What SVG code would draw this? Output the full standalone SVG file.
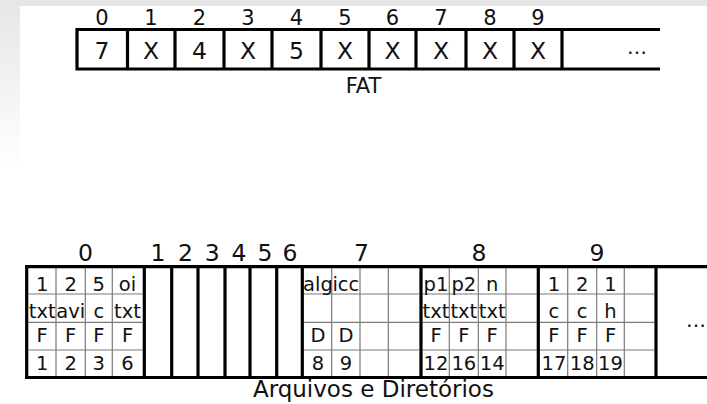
<svg xmlns="http://www.w3.org/2000/svg" width="707" height="404" viewBox="0 0 707 404">
<defs>
<linearGradient id="lg" x1="0" y1="0" x2="0" y2="1">
<stop offset="0" stop-color="#e6e6e6"/>
<stop offset="1" stop-color="#ffffff"/>
</linearGradient>
<style>
.t{font-family:"DejaVu Sans",sans-serif;fill:#111;text-anchor:middle}
.idx{font-size:21px}
.bidx{font-size:23.5px}
.val{font-size:23.5px}
.c{font-size:19.5px}
.lbl{font-size:21px}
.thick{stroke:#000;stroke-width:3.2;fill:none}
.thin{stroke:#7a7a7a;stroke-width:1.2;fill:none}
</style>
</defs>
<rect x="0" y="0" width="707" height="404" fill="#fff"/>
<rect x="0" y="0" width="20" height="170" fill="url(#lg)"/>
<rect x="0" y="0" width="707" height="6" fill="#e6e6e6"/>

<g id="fat">
<g id="fat-grid">
<path class="thick" d="M77,29.5H660M77,69H660M77,28V70.5M127.5,29.5V69M175,29.5V69M224,29.5V69M272,29.5V69M321,29.5V69M369,29.5V69M416,29.5V69M466,29.5V69M514,29.5V69M562,29.5V69"/>
</g>
<g id="fat-0"><text class="t idx" x="102" y="25">0</text><text class="t val" x="102" y="58.5">7</text></g>
<g id="fat-1"><text class="t idx" x="151" y="25">1</text><text class="t val" x="151" y="58.5">X</text></g>
<g id="fat-2"><text class="t idx" x="199.5" y="25">2</text><text class="t val" x="199.5" y="58.5">4</text></g>
<g id="fat-3"><text class="t idx" x="248" y="25">3</text><text class="t val" x="248" y="58.5">X</text></g>
<g id="fat-4"><text class="t idx" x="296.5" y="25">4</text><text class="t val" x="296.5" y="58.5">5</text></g>
<g id="fat-5"><text class="t idx" x="345" y="25">5</text><text class="t val" x="345" y="58.5">X</text></g>
<g id="fat-6"><text class="t idx" x="392.5" y="25">6</text><text class="t val" x="392.5" y="58.5">X</text></g>
<g id="fat-7"><text class="t idx" x="441" y="25">7</text><text class="t val" x="441" y="58.5">X</text></g>
<g id="fat-8"><text class="t idx" x="490" y="25">8</text><text class="t val" x="490" y="58.5">X</text></g>
<g id="fat-9"><text class="t idx" x="538" y="25">9</text><text class="t val" x="538" y="58.5">X</text></g>
<g id="fat-more"><text class="t" style="font-size:20px" x="637" y="54">…</text></g>
<text class="t lbl" x="363.5" y="93">FAT</text>
</g>

<g id="blocks">
<g id="blocks-grid">
<path class="thin" d="M56,268.3V376M85.3,268.3V376M112.3,268.3V376M28.3,294H142.6M28.3,322.3H142.6M28.3,350H142.6"/>
<path class="thin" d="M331.7,268.3V376M360,268.3V376M388.3,268.3V376M304,294H419.3M304,322.3H419.3M304,350H419.3"/>
<path class="thin" d="M449.3,268.3V376M478.3,268.3V376M506,268.3V376M422.7,294H536.7M422.7,322.3H536.7M422.7,350H536.7"/>
<path class="thin" d="M567.7,268.3V376M596.7,268.3V376M624.3,268.3V376M540,294H654.3M540,322.3H654.3M540,350H654.3"/>
<path class="thick" d="M25,266.7H707M25,377.5H707M26.7,265V379M144.3,266.7V377.5M171.7,266.7V377.5M198,266.7V377.5M225,266.7V377.5M250,266.7V377.5M276.7,266.7V377.5M302.3,266.7V377.5M421,266.7V377.5M538.3,266.7V377.5M656,266.7V377.5"/>
</g>
<g id="block-0">
<text class="t bidx" x="85.5" y="260.5">0</text>
<text class="t c" x="42.2" y="290.5">1</text><text class="t c" x="70.7" y="290.5">2</text><text class="t c" x="98.8" y="290.5">5</text><text class="t c" x="127.5" y="290.5">oi</text>
<text class="t c" x="42.2" y="317.5">txt</text><text class="t c" x="70.7" y="317.5">avi</text><text class="t c" x="98.8" y="317.5">c</text><text class="t c" x="127.5" y="317.5">txt</text>
<text class="t c" x="42.2" y="342">F</text><text class="t c" x="70.7" y="342">F</text><text class="t c" x="98.8" y="342">F</text><text class="t c" x="127.5" y="342">F</text>
<text class="t c" x="42.2" y="369.5">1</text><text class="t c" x="70.7" y="369.5">2</text><text class="t c" x="98.8" y="369.5">3</text><text class="t c" x="127.5" y="369.5">6</text>
</g>
<g id="block-1"><text class="t bidx" x="158" y="260.5">1</text></g>
<g id="block-2"><text class="t bidx" x="185.5" y="260.5">2</text></g>
<g id="block-3"><text class="t bidx" x="212.3" y="260.5">3</text></g>
<g id="block-4"><text class="t bidx" x="239" y="260.5">4</text></g>
<g id="block-5"><text class="t bidx" x="265" y="260.5">5</text></g>
<g id="block-6"><text class="t bidx" x="290" y="260.5">6</text></g>
<g id="block-7">
<text class="t bidx" x="361.5" y="260.5">7</text>
<text class="t c" x="317.9" y="290.5">alg</text><text class="t c" x="345.9" y="290.5">icc</text>
<text class="t c" x="317.9" y="342">D</text><text class="t c" x="345.9" y="342">D</text>
<text class="t c" x="317.9" y="369.5">8</text><text class="t c" x="345.9" y="369.5">9</text>
</g>
<g id="block-8">
<text class="t bidx" x="479" y="260.5">8</text>
<text class="t c" x="436" y="290.5">p1</text><text class="t c" x="463.8" y="290.5">p2</text><text class="t c" x="492.2" y="290.5">n</text>
<text class="t c" x="436" y="317.5">txt</text><text class="t c" x="463.8" y="317.5">txt</text><text class="t c" x="492.2" y="317.5">txt</text>
<text class="t c" x="436" y="342">F</text><text class="t c" x="463.8" y="342">F</text><text class="t c" x="492.2" y="342">F</text>
<text class="t c" x="436" y="369.5">12</text><text class="t c" x="463.8" y="369.5">16</text><text class="t c" x="492.2" y="369.5">14</text>
</g>
<g id="block-9">
<text class="t bidx" x="597" y="260.5">9</text>
<text class="t c" x="553.9" y="290.5">1</text><text class="t c" x="582.2" y="290.5">2</text><text class="t c" x="610.5" y="290.5">1</text>
<text class="t c" x="553.9" y="317.5">c</text><text class="t c" x="582.2" y="317.5">c</text><text class="t c" x="610.5" y="317.5">h</text>
<text class="t c" x="553.9" y="342">F</text><text class="t c" x="582.2" y="342">F</text><text class="t c" x="610.5" y="342">F</text>
<text class="t c" x="553.9" y="369.5">17</text><text class="t c" x="582.2" y="369.5">18</text><text class="t c" x="610.5" y="369.5">19</text>
</g>
<g id="blocks-more"><text class="t" style="font-size:20px;text-anchor:end" x="706" y="327">…</text></g>
<text class="t" style="font-size:23px" x="373.4" y="397">Arquivos e Diretórios</text>
</g>
</svg>
